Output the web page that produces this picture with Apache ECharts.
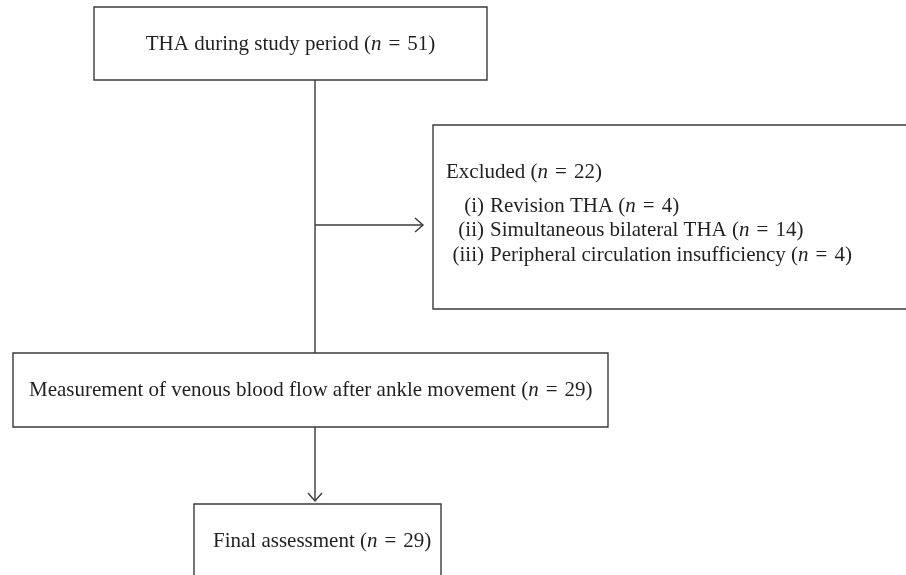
<!DOCTYPE html>
<html>
<head>
<meta charset="utf-8">
<script src="https://cdn.jsdelivr.net/npm/echarts@6/dist/echarts.min.js"></script>
<style>
  html, body { margin: 0; padding: 0; background: #fff; }
  #chart { width: 906px; height: 575px; }
</style>
</head>
<body>
<div id="chart"></div>
<script>
/* ================================
   DATA
================================ */
const stageNames  = ["THA during study period", "Measurement of venous blood flow after ankle movement", "Final assessment"];
const stageCounts = [51, 29, 29];
const excludedName  = "Excluded";
const excludedCount = 22;
const reasonIds    = ["(i)", "(ii)", "(iii)"];
const reasonNames  = ["Revision THA", "Simultaneous bilateral THA", "Peripheral circulation insufficiency"];
const reasonCounts = [4, 14, 4];

/* ================================
   STYLE
================================ */
const FONT = "Liberation Serif";
const FS = 21;
const INK = "#231f20";
const LINE = "#3a3a3a";
const LW = 1.4;
const SP = "\u2004"; // slightly wider space around "="

const rich = {
  t: { fontFamily: FONT, fontSize: FS, fill: INK },
  i: { fontFamily: FONT, fontSize: FS, fill: INK, fontStyle: "italic" }
};

function label(name, n) {
  return `{t|${name} (}{i|n}{t|${SP}=${SP}${n})}`;
}

function box(x, y, w, h) {
  return {
    type: "rect",
    shape: { x: x, y: y, width: w, height: h },
    style: { fill: "#fff", stroke: LINE, lineWidth: LW }
  };
}

function text(x, y, str, align) {
  return {
    type: "text",
    x: x, y: y,
    style: { text: str, rich: rich, align: align || "left", verticalAlign: "middle" }
  };
}

function line(pts) {
  return {
    type: "polyline",
    shape: { points: pts },
    style: { stroke: LINE, lineWidth: LW, fill: null }
  };
}

/* ================================
   LAYOUT
================================ */
const stemX = 315;
const els = [];

// connectors first so boxes sit on top
els.push(line([[stemX, 80], [stemX, 353]]));
els.push(line([[stemX, 225], [423, 225]]));
els.push(line([[415, 218], [423, 225], [415, 232]]));
els.push(line([[stemX, 427], [stemX, 501]]));
els.push(line([[stemX - 7, 493], [stemX, 501], [stemX + 7, 493]]));

// stage boxes
els.push(box(94, 7, 393, 73));
els.push(text(290.5, 44, label(stageNames[0], stageCounts[0]), "center"));

els.push(box(13, 353, 595, 74));
els.push(text(29, 390, label(stageNames[1], stageCounts[1])));

els.push(box(194, 504, 247, 100));
els.push(text(213, 541, label(stageNames[2], stageCounts[2])));

// excluded box
els.push(box(433, 125, 480, 184));
els.push(text(446, 172, label(excludedName, excludedCount)));
const reasonY = [206, 230, 255];
reasonNames.forEach((name, k) => {
  els.push(text(484, reasonY[k], `{t|${reasonIds[k]}}`, "right"));
  els.push(text(490, reasonY[k], label(name, reasonCounts[k])));
});

/* ================================
   RENDER
================================ */
const chart = echarts.init(document.getElementById("chart"), null, { renderer: "canvas" });
chart.setOption({
  backgroundColor: "#fff",
  animation: false,
  graphic: { elements: els }
});
</script>
</body>
</html>
